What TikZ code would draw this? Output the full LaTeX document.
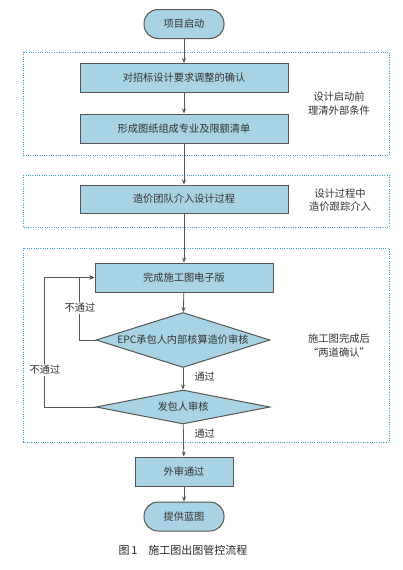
\documentclass[tikz,border=0pt]{standalone}
\usepackage{fontspec}
\setmainfont{Noto Sans CJK SC}
\newfontfamily\capfont{Noto Sans CJK SC}
\usetikzlibrary{positioning, shapes.geometric, arrows.meta}
\definecolor{boxblue}{HTML}{A7D3E4}
\definecolor{dotblue}{HTML}{3C9FCB}
\definecolor{edgegray}{HTML}{555555}
\definecolor{txtgray}{HTML}{333333}

\begin{document}
\begin{tikzpicture}[
			x=1pt, y=-1pt,
			font=\fontsize{10.2pt}{12pt}\selectfont, text=txtgray,
			procbox/.style={draw=edgegray, line width=1pt, fill=boxblue, minimum height=29pt, inner sep=0pt},
			pill/.style={procbox, rounded corners=14pt, minimum width=80pt},
			check/.style={diamond, draw=edgegray, line width=1pt, fill=boxblue, inner sep=0pt, minimum width=174pt},
			zone/.style={draw=dotblue, line width=0.8pt, dash pattern=on 0.9pt off 1.4pt},
			flow/.style={draw=edgegray, line width=0.8pt, -{Stealth[length=5pt, width=4pt]}},
			note/.style={align=center, font=\fontsize{10.3pt}{13.5pt}\selectfont},
			tag/.style={fill=white, inner sep=1pt}
			]
			\useasboundingbox (0,0) rectangle (402,570);
			\draw[zone] (23,52) rectangle (389,155);
			\draw[zone] (23,175) rectangle (389,227);
			\draw[zone] (23,248) rectangle (389,442);
			\node[pill] (start) at (184,24) {项目启动};
			\node[procbox, minimum width=208pt] (confirm) at (184,78) {对招标设计要求调整的确认};
			\node[procbox, minimum width=208pt] (list) at (184,128.5) {形成图纸组成专业及限额清单};
			\node[procbox, minimum width=208pt, minimum height=28pt] (team) at (184,199) {造价团队介入设计过程};
			\node[procbox, minimum width=178pt] (draft) at (184,277.5) {完成施工图电子版};
			\node[check, aspect=3.2, minimum height=55pt] (epc) at (183,340) {EPC承包人内部核算造价审核};
			\node[check, aspect=5, minimum height=34pt] (owner) at (183,407) {发包人审核};
			\node[procbox, minimum width=98pt] (outer) at (184,471.5) {外审通过};
			\node[pill] (blue) at (184,516.5) {提供蓝图};
			\node[note] (n1) at (339,103.5) {设计启动前\\理清外部条件};
			\node[note] (n2) at (340,200) {设计过程中\\造价跟踪介入};
			\node[note] (n3) at (339,345.5) {施工图完成后\\“两道确认”};
			\draw[flow] (start) -- (confirm);
			\draw[flow] (confirm) -- (list);
			\draw[flow] (list) -- (team);
			\draw[flow] (team) -- (draft);
			\draw[flow] (draft) -- (epc);
			\draw[flow] (epc) -- (owner);
			\draw[flow] (owner) -- (outer);
			\draw[flow] (outer) -- (blue);
			\draw[flow] (epc.west) -- ++(-16,0) |- (draft.west);
			\draw[flow] (owner.west) -- ++(-51,0) |- (draft.west);
			\node[tag] (fail1) at (80,308) {不通过};
			\node[tag] (fail2) at (45,370) {不通过};
			\node[anchor=west] (pass1) at (191,377) {通过};
			\node[anchor=west] (pass2) at (191,434) {通过};
			\node[font=\capfont\fontsize{11pt}{12pt}\selectfont, text=black!85] (cap) at (183,550) {图\,1\quad 施工图出图管控流程};
		\end{tikzpicture}
\end{document}
